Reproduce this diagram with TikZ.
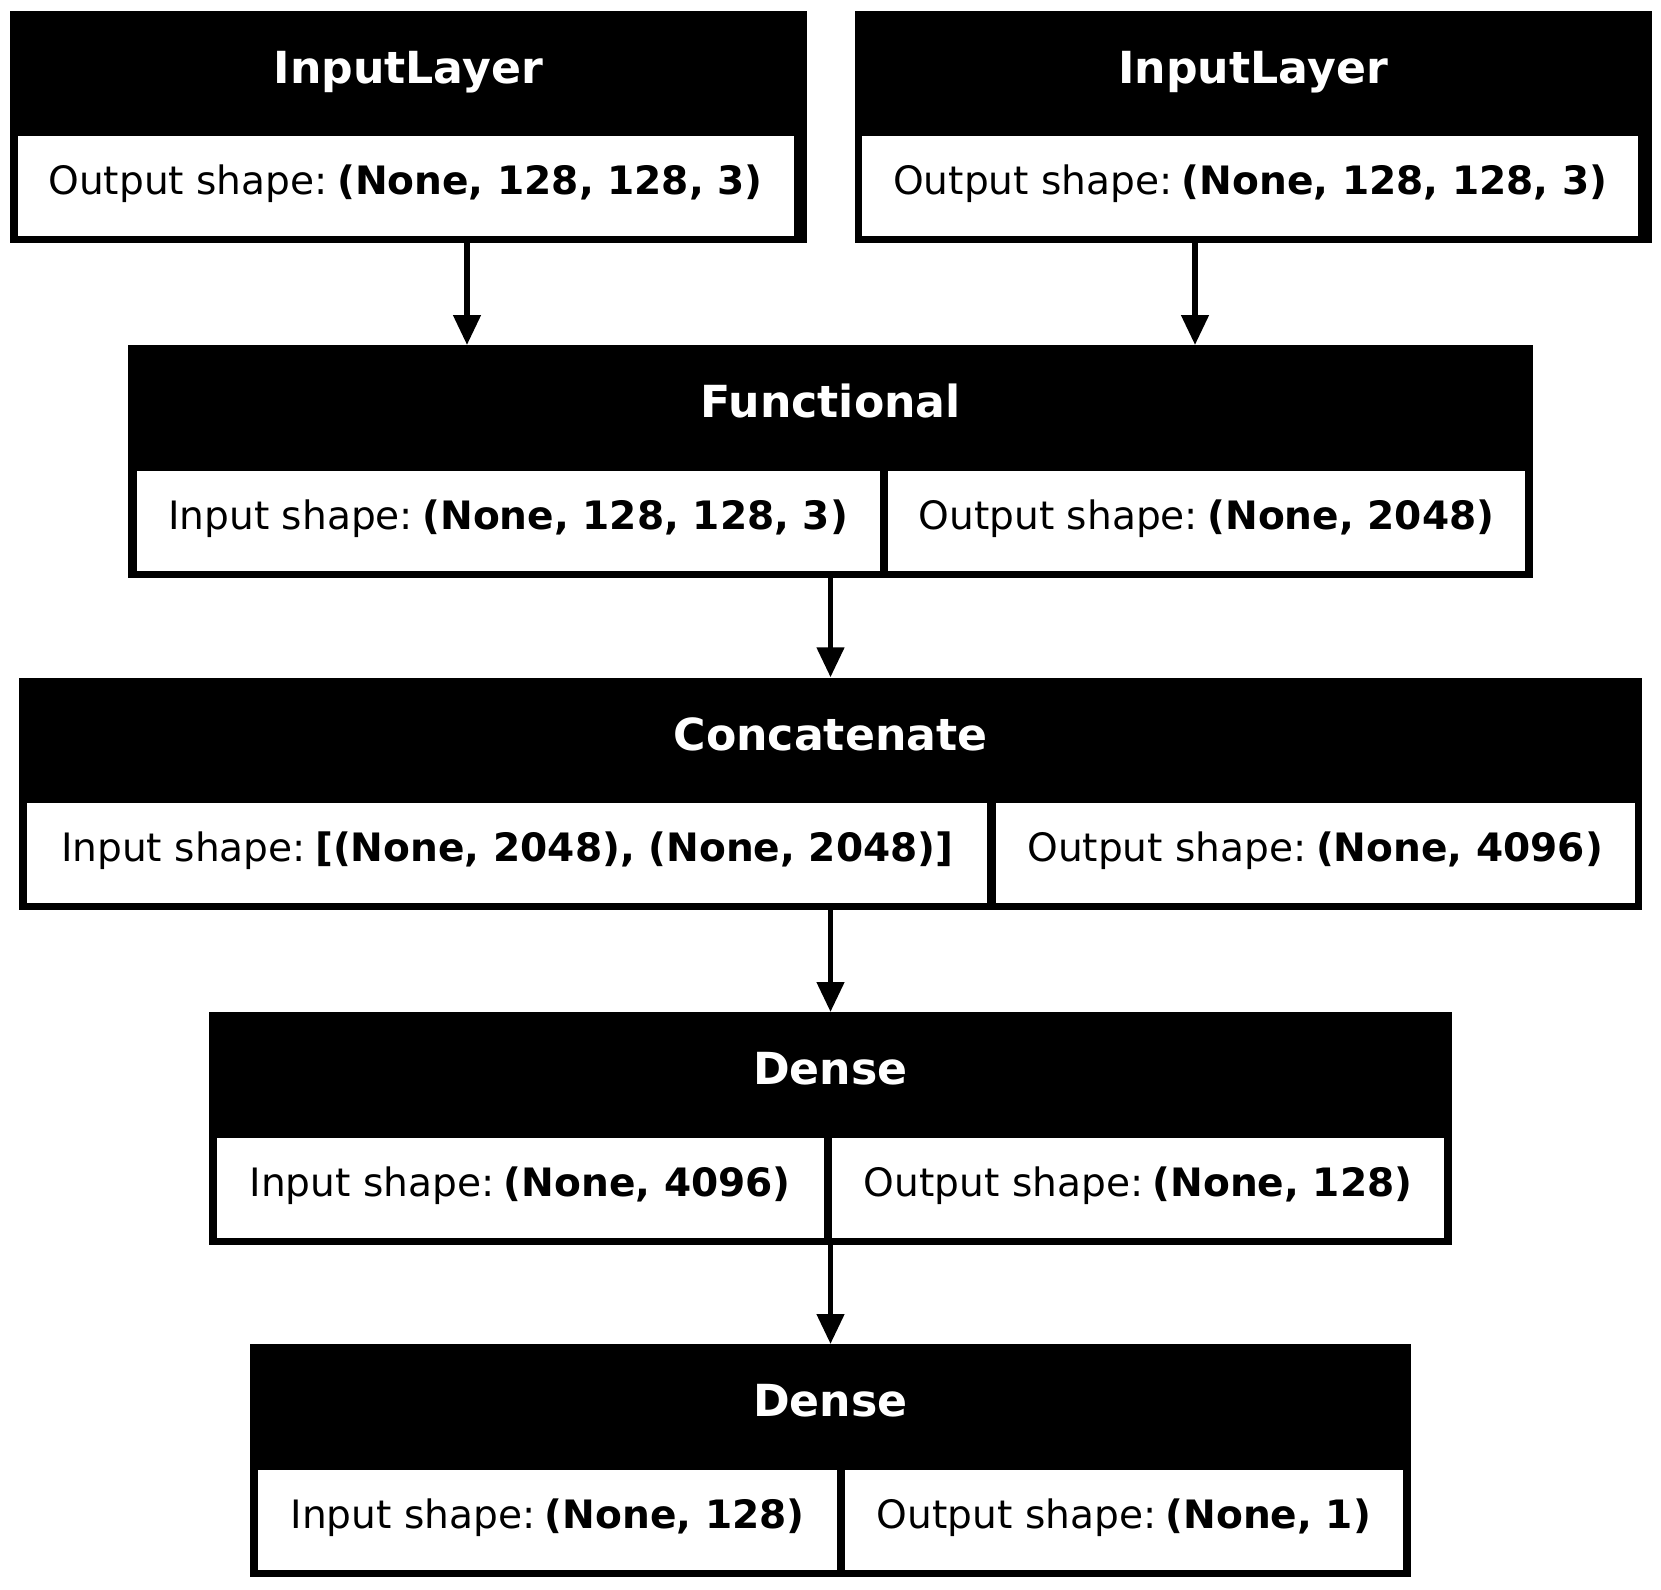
\documentclass[tikz,border=0pt]{standalone}
\usepackage{fontspec}
\setmainfont{DejaVu Sans}
\usetikzlibrary{arrows.meta}
\newcommand{\shp}[2]{#1:\hspace{0.24em}\textbf{#2}}
\begin{document}
\begin{tikzpicture}[x=1pt,y=-1pt,
  layerbox/.style={anchor=north west, fill=black, draw=none, inner sep=0pt, text=white,
    font=\fontsize{44.2}{50}\selectfont\bfseries, text height=72.5pt, text depth=160pt},
  cellbox/.style={anchor=north west, fill=white, draw=none, inner sep=0pt,
    font=\fontsize{39.1}{45}\selectfont, text height=58.5pt, text depth=41.5pt},
  arr/.style={line width=5.6pt, -{Triangle[length=30pt,width=26.7pt]}}]
\fill[white] (0,0) rectangle (1661,1589);
\useasboundingbox (0,0) rectangle (1661,1589);
% InputLayer 1
\node[layerbox, minimum width=797.2pt] (in1) at (9.5,10.5) {InputLayer};
\node[cellbox, minimum width=776pt] (in1o) at (17.3,136) {\shp{Output shape}{(None, 128, 128, 3)}};
% InputLayer 2
\node[layerbox, minimum width=797.2pt] (in2) at (854.3,10.5) {InputLayer};
\node[cellbox, minimum width=776pt] (in2o) at (862.1,136) {\shp{Output shape}{(None, 128, 128, 3)}};
% Functional
\node[layerbox, minimum width=1405pt] (func) at (128,345) {Functional};
\node[cellbox, minimum width=742.8pt] (funci) at (136.5,470.5) {\shp{Input shape}{(None, 128, 128, 3)}};
\node[cellbox, minimum width=637.3pt] (funco) at (887.7,470.5) {\shp{Output shape}{(None, 2048)}};
% Concatenate
\node[layerbox, minimum width=1622.7pt] (cat) at (19,677.3) {Concatenate};
\node[cellbox, minimum width=960pt] (cati) at (27,802.8) {\shp{Input shape}{[(None, 2048), (None, 2048)]}};
\node[cellbox, minimum width=638.8pt] (cato) at (995.5,802.8) {\shp{Output shape}{(None, 4096)}};
% Dense 1
\node[layerbox, minimum width=1243.7pt] (d1) at (208.3,1012) {Dense};
\node[cellbox, minimum width=607.2pt] (d1i) at (216.3,1137.5) {\shp{Input shape}{(None, 4096)}};
\node[cellbox, minimum width=612.2pt] (d1o) at (831.8,1137.5) {\shp{Output shape}{(None, 128)}};
% Dense 2
\node[layerbox, minimum width=1160.8pt] (d2) at (249.8,1344) {Dense};
\node[cellbox, minimum width=578.8pt] (d2i) at (258,1469.5) {\shp{Input shape}{(None, 128)}};
\node[cellbox, minimum width=557.5pt] (d2o) at (845,1469.5) {\shp{Output shape}{(None, 1)}};
% connector columns
\coordinate (p1) at (467,0);
\coordinate (p2) at (1195,0);
\coordinate (pc) at (830.5,0);
\draw[arr] (in1.south -| p1) -- (func.north -| p1);
\draw[arr] (in2.south -| p2) -- (func.north -| p2);
\draw[arr] (func.south -| pc) -- (cat.north -| pc);
\draw[arr] (cat.south -| pc) -- (d1.north -| pc);
\draw[arr] (d1.south -| pc) -- (d2.north -| pc);
\end{tikzpicture}
\end{document}
